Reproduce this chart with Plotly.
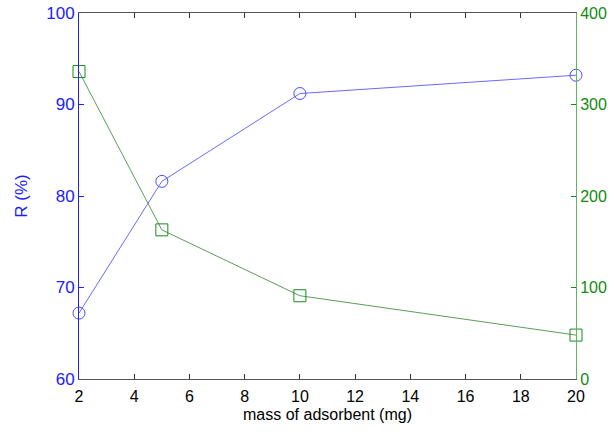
import plotly.graph_objects as go

mass = [2, 5, 10, 20]
removal = [67.2, 81.6, 91.2, 93.2]
capacity = [336, 163, 91, 48]

x_ticks = [2, 4, 6, 8, 10, 12, 14, 16, 18, 20]
left_ticks = [60, 70, 80, 90, 100]
right_ticks = [0, 100, 200, 300, 400]

BLUE = "#2020ff"
GREEN = "#108a10"
FONT = "Liberation Sans, Arial, sans-serif"

fig = go.Figure()
fig.add_trace(go.Scatter(
    x=mass, y=removal, mode="lines+markers", yaxis="y",
    line=dict(color="#6a6aff", width=1),
    marker=dict(symbol="circle-open", size=12, color="#4a4aff", line=dict(width=1)),
    cliponaxis=False, showlegend=False))
fig.add_trace(go.Scatter(
    x=mass, y=capacity, mode="lines+markers", yaxis="y2",
    line=dict(color="#5a9e5a", width=1),
    marker=dict(symbol="square-open", size=12, color="#1a8c1a", line=dict(width=1)),
    cliponaxis=False, showlegend=False))

fig.update_layout(
    width=616, height=436,
    margin=dict(l=79, r=40, t=13, b=57),
    paper_bgcolor="white", plot_bgcolor="white",
    font=dict(family=FONT, size=16, color="black"),
    xaxis=dict(range=[2, 20], tickvals=x_ticks, ticks="inside", ticklen=5,
               tickcolor="#333", linecolor="#555", linewidth=1, mirror="ticks",
               showgrid=False, zeroline=False, showline=True, automargin=False,
               ticklabelstandoff=3,
               tickfont=dict(size=16, color="black"),
               title=dict(text="mass of adsorbent (mg)", font=dict(size=16), standoff=4)),
    yaxis=dict(range=[60, 100], tickvals=left_ticks, ticks="inside", ticklen=5,
               tickcolor=BLUE, linecolor=BLUE, linewidth=1, showline=True,
               showgrid=False, zeroline=False, automargin=False,
               tickfont=dict(size=17, color=BLUE),
               title=dict(text="R (%)", font=dict(size=17, color=BLUE), standoff=14)),
    yaxis2=dict(range=[0, 400], tickvals=right_ticks, ticks="inside", ticklen=5,
                tickcolor=GREEN, linecolor="#5cb85c", linewidth=1, showline=True,
                showgrid=False, zeroline=False, overlaying="y", side="right",
                automargin=False,
                tickfont=dict(size=16, color=GREEN)),
)

fig.write_html("out.html")
